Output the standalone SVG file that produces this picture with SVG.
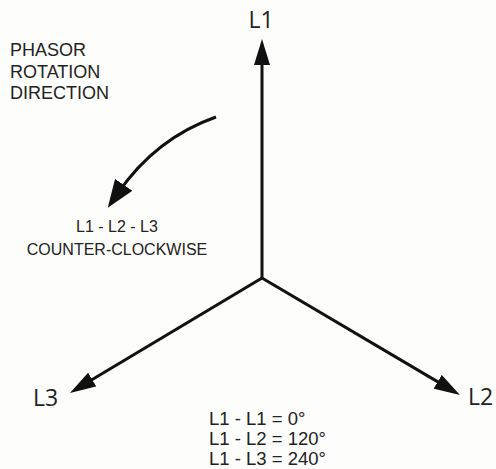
<svg xmlns="http://www.w3.org/2000/svg" width="496" height="469" viewBox="0 0 496 469">
<style>
.ax{stroke:#111;stroke-width:3;fill:none}
.lbl{font-family:"Open Sans","Noto Sans",sans-serif;font-size:23px;fill:#222}
.t{font-family:"Liberation Sans",Arial,sans-serif;fill:#222}
</style>
<defs>
<marker id="ah" markerUnits="userSpaceOnUse" markerWidth="26" markerHeight="16" refX="16" refY="8" orient="auto" viewBox="0 0 26 16">
<path d="M0,0 L26,8 L0,16 Z" fill="#111"/>
</marker>
<marker id="ahc" markerUnits="userSpaceOnUse" markerWidth="28" markerHeight="21" refX="10" refY="10.5" orient="auto" viewBox="0 0 28 21">
<path d="M0,0 L28,10.5 L0,21 Z" fill="#111"/>
</marker>
</defs>
<rect width="496" height="469" fill="#fdfdfb"/>
<g id="connectors">
<line class="ax" x1="262" y1="278" x2="262" y2="49" marker-end="url(#ah)"/>
<line class="ax" x1="262" y1="278" x2="78.5" y2="387.8" marker-end="url(#ah)"/>
<line class="ax" x1="262" y1="278" x2="451.4" y2="389.9" marker-end="url(#ah)"/>
<path class="ax" d="M216,117 Q156,138 118,193" marker-end="url(#ahc)"/>
</g>
<g id="L1"><text class="lbl" x="261" y="28" text-anchor="middle">L1</text></g>
<g id="L3"><text class="lbl" x="33" y="406">L3</text></g>
<g id="L2"><text class="lbl" x="468" y="405">L2</text></g>
<g id="rotation">
<text class="t" font-size="18" x="10" y="56">PHASOR</text>
<text class="t" font-size="18" x="10" y="78">ROTATION</text>
<text class="t" font-size="18" x="10" y="99">DIRECTION</text>
</g>
<g id="sequence">
<text class="t" font-size="16" x="117" y="232" text-anchor="middle">L1 - L2 - L3</text>
<text class="t" font-size="16" x="117" y="255" text-anchor="middle">COUNTER-CLOCKWISE</text>
</g>
<g id="angles">
<text class="t" font-size="18.5" x="209" y="425">L1 - L1 = 0°</text>
<text class="t" font-size="18.5" x="209" y="445">L1 - L2 = 120°</text>
<text class="t" font-size="18.5" x="209" y="465">L1 - L3 = 240°</text>
</g>
</svg>
